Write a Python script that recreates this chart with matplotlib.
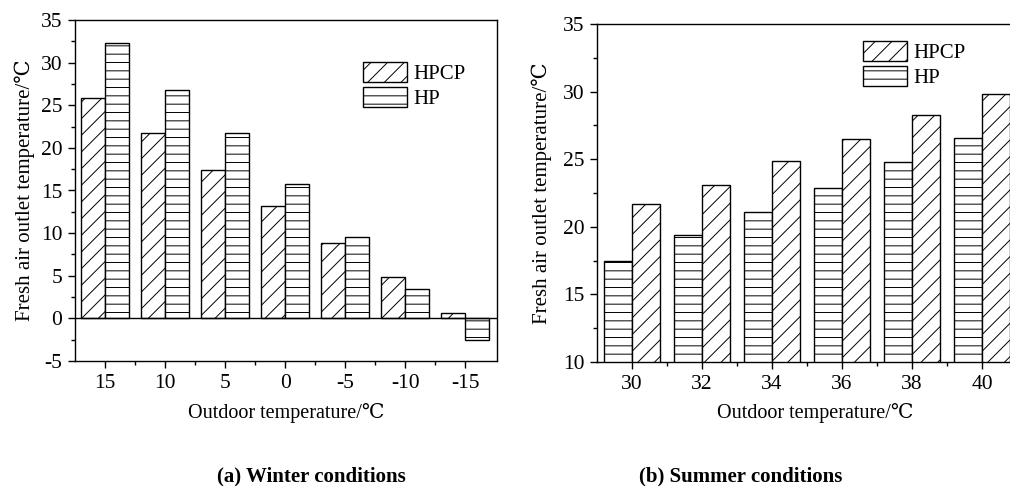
import numpy as np
import matplotlib
matplotlib.use("Agg")
import matplotlib.pyplot as plt
from matplotlib.ticker import MultipleLocator

plt.rcParams['font.family'] = ['Liberation Serif', 'DejaVu Serif']
plt.rcParams['hatch.linewidth'] = 0.7
plt.rcParams['axes.unicode_minus'] = False

# winter data
winter_x = ['15', '10', '5', '0', '-5', '-10', '-15']
winter_hpcp = [25.8, 21.7, 17.4, 13.2, 8.8, 4.8, 0.6]
winter_hp = [32.3, 26.8, 21.7, 15.8, 9.6, 3.5, -2.5]

# summer data
summer_x = ['30', '32', '34', '36', '38', '40']
summer_hp = [17.5, 19.4, 21.1, 22.9, 24.8, 26.6]
summer_hpcp = [21.7, 23.1, 24.9, 26.5, 28.3, 29.8]

ylab = 'Fresh air outlet temperature/℃'
xlab = 'Outdoor temperature/℃'

fig = plt.figure(figsize=(10.1, 4.86), dpi=100)
W, H = 1010, 486

def style(ax):
    ax.tick_params(axis='both', which='major', direction='out', length=5, width=1,
                   labelsize=15.5, pad=4)
    ax.tick_params(axis='both', which='minor', direction='out', length=3, width=1)
    ax.tick_params(top=False, right=False, which='both')
    for s in ax.spines.values():
        s.set_linewidth(1)

leg_kw = dict(loc='upper left', frameon=False, fontsize=15, handlelength=2.1,
              handleheight=1.1, labelspacing=0.15, handletextpad=0.3,
              borderpad=0, borderaxespad=0)

# ---- (a) winter
ax1 = fig.add_axes([75/W, (H-361)/H, 422/W, 341/H])
xi = np.arange(len(winter_x))
ax1.bar(xi - 0.2, winter_hpcp, 0.4, color='white', edgecolor='black', hatch='//', lw=1, label='HPCP')
ax1.bar(xi + 0.2, winter_hp, 0.4, color='white', edgecolor='black', hatch='--', lw=1, label='HP')
ax1.axhline(0, color='black', lw=1)
ax1.set_xlim(-0.5, 6.53)
ax1.set_ylim(-5, 35)
ax1.set_xticks(xi)
ax1.set_xticklabels(winter_x)
ax1.set_xticks(xi[:-1] + 0.5, minor=True)
ax1.yaxis.set_major_locator(MultipleLocator(5))
ax1.yaxis.set_minor_locator(MultipleLocator(2.5))
style(ax1)
ax1.set_ylabel(ylab, fontsize=15, labelpad=4)
ax1.set_xlabel(xlab, fontsize=14.5)
ax1.xaxis.set_label_coords(0.5, -(403-361)/341)
ax1.legend(bbox_to_anchor=((363-75)/422, (361-62)/341), **leg_kw)

# ---- (b) summer
ax2 = fig.add_axes([597/W, (H-362)/H, 420/W, 338/H])
xs = np.arange(len(summer_x))
ax2.bar(xs - 0.2, summer_hp, 0.4, color='white', edgecolor='black', hatch='--', lw=1, label='HP')
ax2.bar(xs + 0.2, summer_hpcp, 0.4, color='white', edgecolor='black', hatch='//', lw=1, label='HPCP')
ax2.set_xlim(-0.5, 5.5)
ax2.set_ylim(10, 35)
ax2.set_xticks(xs)
ax2.set_xticklabels(summer_x)
ax2.set_xticks(xs[:-1] + 0.5, minor=True)
ax2.yaxis.set_major_locator(MultipleLocator(5))
ax2.yaxis.set_minor_locator(MultipleLocator(2.5))
style(ax2)
ax2.set_ylabel(ylab, fontsize=15, labelpad=8)
ax2.set_xlabel(xlab, fontsize=14.5)
ax2.xaxis.set_label_coords(0.52, -(403-362)/338)
h, l = ax2.get_legend_handles_labels()
ax2.legend(h[::-1], l[::-1], bbox_to_anchor=((863-597)/420, (362-41)/338), **leg_kw)

fig.text(311/W, 1 - 476/H, '(a) Winter conditions', ha='center', va='center',
         fontsize=15, fontweight='bold')
fig.text(741/W, 1 - 476/H, '(b) Summer conditions', ha='center', va='center',
         fontsize=15, fontweight='bold')

fig.savefig('out.png', dpi=100)
